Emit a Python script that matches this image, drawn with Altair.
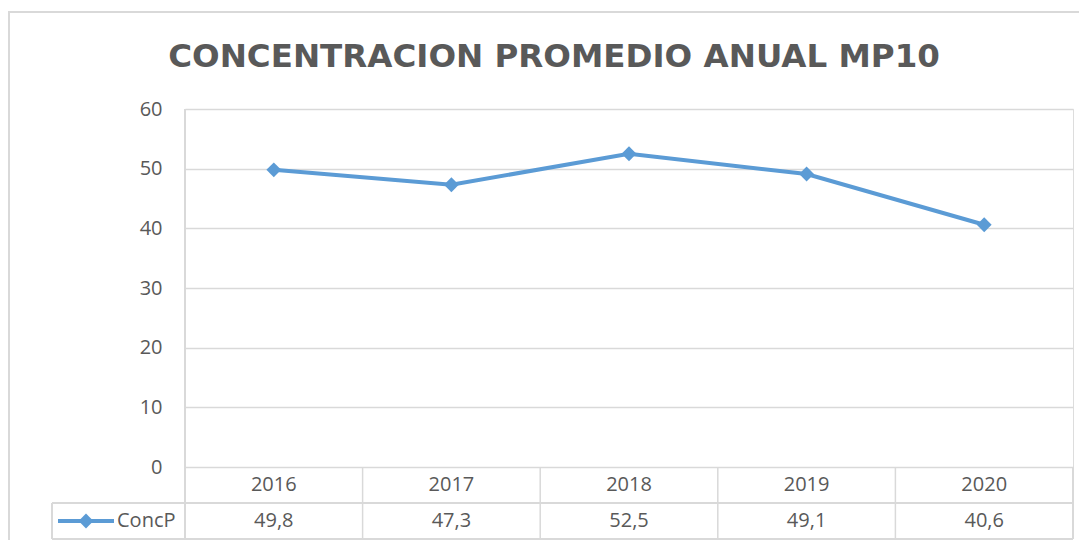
import altair as alt
import pandas as pd

years = ["2016", "2017", "2018", "2019", "2020"]
values = [49.8, 47.3, 52.5, 49.1, 40.6]
series_name = "ConcP"
title_text = "CONCENTRACION PROMEDIO ANUAL MP10"

labels = [f"{v:.1f}".replace(".", ",") for v in values]
df = pd.DataFrame({"year": years, "value": values, "label": labels})

W, H = 888, 358
ROW1, ROW2 = 394, 430
LEFT = -133
BLUE = "#5B9BD5"
GRID = "#D9D9D9"
TXT = "#595959"
FONT = "Open Sans"
FS = 20

xband = alt.Scale(domain=years, paddingInner=0, paddingOuter=0)
xenc = alt.X("year:N", scale=xband, axis=None, bandPosition=0.5)
yenc = alt.Y("value:Q", scale=alt.Scale(domain=[0, 60]),
             axis=alt.Axis(values=[0, 10, 20, 30, 40, 50, 60], grid=True, gridColor=GRID,
                           gridWidth=1.5, domain=False, ticks=False, labelPadding=23,
                           labelFontSize=FS, labelColor=TXT, labelFont=FONT, title=None))

base = alt.Chart(df)

line = base.mark_line(color=BLUE, strokeWidth=4).encode(x=xenc, y=yenc)
pts = base.mark_point(shape="diamond", filled=True, size=220, color=BLUE, opacity=1).encode(x=xenc, y=yenc)

rule_style = dict(color=GRID, strokeWidth=1.5)
vlines = base.mark_rule(**rule_style).encode(
    x=alt.X("year:N", scale=xband, axis=None, bandPosition=0),
    y=alt.value(H), y2=alt.value(ROW2))
left_axis = base.mark_rule(**rule_style).encode(x=alt.value(0), y=alt.value(0), y2=alt.value(ROW2))
right_edge = base.mark_rule(**rule_style).encode(x=alt.value(W), y=alt.value(H), y2=alt.value(ROW2))
h1 = base.mark_rule(**rule_style).encode(x=alt.value(LEFT), x2=alt.value(W), y=alt.value(ROW1))
h2 = base.mark_rule(**rule_style).encode(x=alt.value(LEFT), x2=alt.value(W), y=alt.value(ROW2))
lcell = base.mark_rule(**rule_style).encode(x=alt.value(LEFT), y=alt.value(ROW1), y2=alt.value(ROW2))

border_top = base.mark_rule(color=GRID, strokeWidth=1.5).encode(
    x=alt.value(-177), x2=alt.value(W + 6), y=alt.value(-97))
border_left = base.mark_rule(color=GRID, strokeWidth=1.5).encode(
    x=alt.value(-176), y=alt.value(-97), y2=alt.value(H + 80))

year_txt = base.mark_text(fontSize=FS, color=TXT, font=FONT, baseline="middle").encode(
    x=xenc, y=alt.value(376), text="year:N")
val_txt = base.mark_text(fontSize=FS, color=TXT, font=FONT, baseline="middle").encode(
    x=xenc, y=alt.value(412), text="label:N")

leg_df = pd.DataFrame({"name": [series_name]})
leg_base = alt.Chart(leg_df)
leg_line = leg_base.mark_rule(color=BLUE, strokeWidth=4).encode(
    x=alt.value(-127), x2=alt.value(-71), y=alt.value(412))
leg_pt = leg_base.mark_point(shape="diamond", filled=True, size=220, color=BLUE, opacity=1).encode(
    x=alt.value(-99), y=alt.value(412))
leg_txt = leg_base.mark_text(fontSize=FS, color=TXT, font=FONT, align="left", baseline="middle").encode(
    x=alt.value(-68), y=alt.value(412), text="name:N")

title_df = pd.DataFrame({"t": [title_text]})
title = alt.Chart(title_df).mark_text(fontSize=32.5, fontWeight="bold", color=TXT, font="DejaVu Sans",
                                      align="center", baseline="middle").encode(
    x=alt.value(369), y=alt.value(-52), text="t:N")

chart = alt.layer(
    border_top, border_left, vlines, left_axis, right_edge, h1, h2, lcell,
    line, pts, year_txt, val_txt, leg_line, leg_pt, leg_txt, title
).properties(
    width=W, height=H,
    autosize=alt.AutoSizeParams(type="none"),
    padding={"left": 177, "top": 101, "right": 6, "bottom": 73},
).configure_view(stroke=None).configure(background="white")

chart.save("out.html", embed_options={"renderer": "svg", "actions": False})
